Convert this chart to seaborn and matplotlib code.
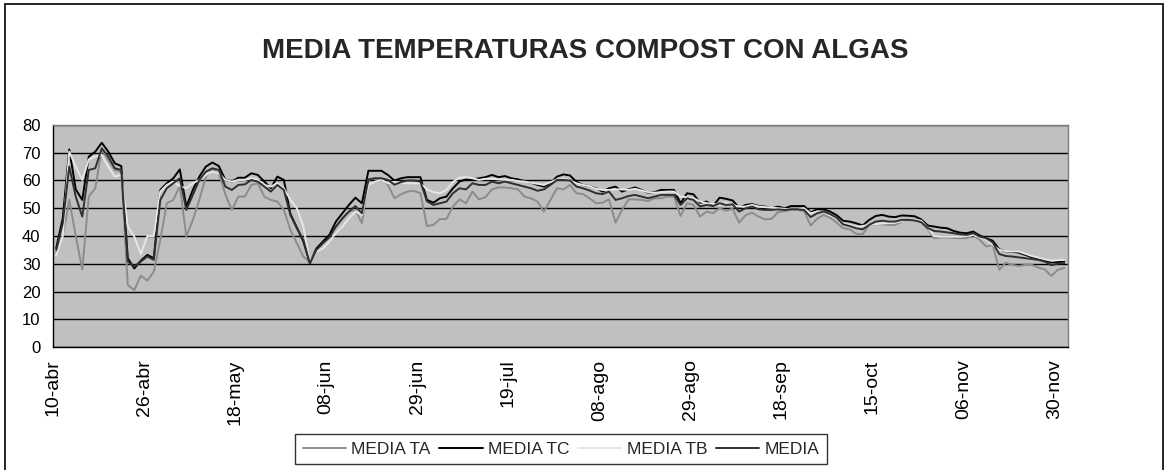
import numpy as np
import pandas as pd
import seaborn as sns
import matplotlib.pyplot as plt
from matplotlib.patches import Rectangle

# Etiquetas del eje X (una cada 14 muestras)
fechas = ["10-abr", "26-abr", "18-may", "08-jun", "29-jun", "19-jul",
          "08-ago", "29-ago", "18-sep", "15-oct", "06-nov", "30-nov"]
paso_etiqueta = 14

media_ta = [34.0, 40.0, 53.0, 40.0, 28.0, 54.2, 57.2, 71.2, 67.4, 63.8,
            63.2, 22.3, 20.5, 25.7, 23.9, 27.1, 38.6, 51.8, 53.0, 58.0,
            39.8, 45.8, 53.0, 61.4, 63.8, 62.6, 55.0, 49.4, 54.2, 54.2,
            58.4, 59.0, 54.2, 53.0, 52.4, 49.4, 42.2, 37.4, 32.6, 30.5,
            35.0, 38.0, 39.8, 43.4, 46.0, 48.8, 49.4, 44.6, 60.2, 60.8,
            60.8, 58.4, 53.6, 55.0, 56.0, 56.3, 55.4, 43.6, 44.0, 46.1,
            46.1, 50.6, 53.2, 51.8, 56.0, 53.2, 54.0, 56.8, 57.5, 57.5,
            57.2, 56.8, 54.2, 53.6, 52.4, 48.8, 53.0, 57.2, 56.8, 58.4,
            55.4, 55.1, 53.6, 51.8, 52.0, 53.2, 44.8, 49.4, 53.2, 53.2,
            53.0, 52.6, 53.6, 53.6, 54.2, 54.2, 47.2, 51.8, 51.2, 47.0,
            48.8, 48.2, 50.0, 49.1, 49.8, 44.8, 47.5, 48.4, 47.0, 46.0,
            46.2, 48.6, 49.0, 49.4, 49.4, 49.0, 43.8, 46.2, 47.6, 46.6,
            44.8, 42.8, 42.4, 40.8, 40.6, 44.0, 44.2, 44.2, 44.0, 44.0,
            45.2, 45.8, 45.8, 45.0, 42.4, 39.2, 39.4, 39.5, 39.3, 39.2,
            39.2, 40.4, 38.6, 36.2, 36.8, 27.8, 30.4, 29.6, 29.2, 29.6,
            29.6, 28.6, 28.0, 25.6, 27.8, 28.5]

media_tc = [35.7, 46.4, 71.2, 56.8, 53.0, 68.6, 70.4, 73.6, 70.4, 66.2,
            65.2, 32.0, 28.3, 31.1, 33.2, 32.0, 56.6, 59.0, 60.8, 64.0,
            50.6, 56.6, 61.4, 65.0, 66.5, 65.2, 60.2, 59.6, 61.0, 61.0,
            62.6, 62.0, 59.6, 57.2, 61.4, 60.2, 48.0, 43.0, 38.0, 30.2,
            35.5, 38.0, 40.4, 45.2, 48.2, 51.2, 53.8, 51.8, 63.5, 63.5,
            63.5, 62.0, 60.0, 60.8, 61.2, 61.2, 61.2, 53.0, 52.0, 53.6,
            54.2, 57.2, 59.6, 60.4, 60.4, 60.8, 61.2, 62.0, 61.2, 61.6,
            60.8, 60.4, 59.8, 59.2, 58.4, 57.8, 59.0, 61.4, 62.2, 61.8,
            59.5, 58.4, 58.0, 57.2, 56.0, 57.2, 57.8, 56.0, 56.8, 57.5,
            56.6, 55.6, 55.8, 56.6, 56.6, 56.6, 51.8, 55.4, 55.0, 52.0,
            52.4, 50.8, 53.8, 53.4, 52.8, 50.2, 51.2, 51.5, 50.8, 50.6,
            50.0, 50.6, 50.0, 50.8, 50.8, 50.8, 48.5, 49.6, 49.6, 48.8,
            47.5, 45.5, 45.2, 44.6, 43.8, 45.8, 47.2, 47.6, 47.0, 46.8,
            47.4, 47.3, 47.1, 46.0, 43.8, 43.4, 43.0, 42.8, 41.8, 41.2,
            41.0, 41.6, 40.2, 39.2, 38.3, 35.2, 34.5, 34.4, 34.0, 33.2,
            32.4, 31.7, 31.2, 30.5, 30.6, 30.8]

media_tb = [33.0, 40.0, 70.4, 65.0, 60.2, 67.6, 68.6, 69.2, 65.0, 61.4,
            62.0, 43.4, 39.8, 33.5, 40.0, 40.0, 56.0, 58.4, 59.6, 58.0,
            57.2, 59.0, 60.2, 62.0, 63.2, 62.6, 60.2, 59.6, 60.2, 60.2,
            60.8, 60.2, 58.4, 57.8, 59.0, 57.2, 53.0, 50.0, 43.4, 30.8,
            34.4, 35.5, 38.0, 41.0, 43.4, 46.4, 48.8, 47.6, 58.4, 59.6,
            60.2, 59.0, 59.5, 59.2, 59.0, 59.0, 59.0, 56.8, 55.8, 55.4,
            56.6, 59.5, 61.0, 61.2, 60.8, 60.2, 60.6, 60.6, 60.4, 60.2,
            60.2, 59.8, 59.6, 59.2, 58.8, 58.4, 59.4, 60.4, 60.6, 60.0,
            59.0, 58.4, 58.0, 57.0, 56.6, 56.6, 56.8, 56.8, 56.6, 57.0,
            56.4, 55.8, 55.6, 55.8, 56.0, 56.0, 54.2, 54.0, 53.6, 52.5,
            51.8, 51.6, 51.2, 52.0, 51.2, 50.6, 50.6, 51.2, 50.6, 50.4,
            50.2, 50.0, 49.8, 49.6, 49.6, 50.0, 48.2, 48.8, 48.6, 47.4,
            46.5, 44.4, 44.0, 43.2, 43.6, 44.0, 44.3, 44.5, 44.7, 44.8,
            45.4, 45.8, 45.8, 45.5, 43.0, 40.0, 39.8, 39.8, 39.8, 39.8,
            40.0, 40.4, 39.6, 38.8, 36.8, 35.0, 34.6, 34.5, 34.4, 33.6,
            32.8, 32.2, 31.6, 31.1, 31.3, 31.4]

media = [35.0, 44.6, 65.0, 54.2, 47.0, 63.8, 64.4, 71.6, 68.6, 64.4,
         63.8, 30.8, 29.0, 30.8, 32.6, 31.4, 53.0, 57.2, 59.0, 60.8,
         49.4, 54.8, 60.2, 63.2, 64.4, 63.8, 57.8, 56.6, 58.4, 58.6,
         60.2, 59.6, 57.8, 56.0, 58.4, 56.6, 47.6, 42.8, 38.6, 30.2,
         35.0, 37.4, 39.5, 43.4, 46.4, 48.8, 50.8, 48.2, 60.4, 60.8,
         60.8, 60.2, 58.5, 59.4, 60.0, 60.0, 59.6, 52.5, 51.2, 51.8,
         52.4, 55.4, 57.2, 56.8, 59.0, 58.4, 58.4, 59.6, 59.0, 59.6,
         59.0, 58.4, 57.8, 57.2, 56.3, 56.8, 58.4, 60.2, 60.2, 60.0,
         57.8, 57.2, 56.4, 55.4, 55.1, 56.0, 53.0, 53.6, 54.4, 54.8,
         54.2, 53.6, 54.2, 54.8, 54.8, 54.8, 51.2, 53.6, 53.0, 50.6,
         51.2, 50.8, 51.8, 51.2, 51.4, 48.8, 50.0, 50.6, 49.6, 49.4,
         49.4, 49.6, 49.4, 49.6, 49.6, 49.4, 46.8, 48.2, 48.8, 47.9,
         46.6, 44.2, 43.6, 42.8, 42.4, 44.0, 45.2, 45.5, 45.2, 45.2,
         45.8, 45.8, 45.6, 45.0, 42.9, 41.8, 41.6, 41.3, 41.0, 40.6,
         40.4, 41.0, 39.8, 39.2, 37.7, 33.5, 32.8, 32.6, 32.3, 32.0,
         31.7, 31.4, 30.8, 29.5, 30.0, 30.2]

series = ["MEDIA TA", "MEDIA TC", "MEDIA TB", "MEDIA"]
colores = ["#8c8c8c", "#000000", "#e6e6e6", "#303030"]

n = len(media_tc)
df = pd.DataFrame({"muestra": np.arange(n),
                   "MEDIA TA": media_ta,
                   "MEDIA TC": media_tc,
                   "MEDIA TB": media_tb,
                   "MEDIA": media})
largo = df.melt(id_vars="muestra", var_name="serie", value_name="temp")

sns.set_theme(style="white")
plt.rcParams["font.family"] = ["Liberation Sans", "DejaVu Sans"]

W, H = 1169, 470
fig = plt.figure(figsize=(W / 100, H / 100), dpi=100)
ax = fig.add_axes([53 / W, 1 - 347 / H, (1067.5 - 53) / W, (347 - 125) / H])
ax.set_facecolor("#c0c0c0")

sns.lineplot(data=largo, x="muestra", y="temp", hue="serie",
             hue_order=series, palette=colores, linewidth=1.4, ax=ax)

# Ejes
ax.set_xlim(-0.5, n - 0.5)
ax.set_ylim(0, 80)
ax.set_yticks(range(0, 81, 10))
ax.set_xticks(np.arange(len(fechas)) * paso_etiqueta - 0.5)
ax.set_xticklabels(fechas, rotation=90, fontsize=14)
ax.tick_params(axis="y", labelsize=12)
ax.tick_params(axis="both", direction="out", length=5, width=1,
               color="black", labelcolor="black", pad=4)
ax.yaxis.grid(True, color="black", linewidth=1)
ax.set_axisbelow(True)
ax.set_xlabel("")
ax.set_ylabel("")
for lado in ["left", "bottom"]:
    ax.spines[lado].set_color("black")
    ax.spines[lado].set_linewidth(1)
for lado in ["top", "right"]:
    ax.spines[lado].set_color("#808080")
    ax.spines[lado].set_linewidth(1)

# Leyenda abajo
handles, labels = ax.get_legend_handles_labels()
ax.get_legend().remove()
leg = fig.legend(handles, labels, loc="center",
                 bbox_to_anchor=(561 / W, 1 - 449 / H), ncol=4,
                 fontsize=12.5, frameon=True, fancybox=False,
                 edgecolor="black", handlelength=2.5, handletextpad=0.3,
                 columnspacing=0.5, borderpad=0.45)
leg.get_frame().set_linewidth(1)

# Titulo
fig.text(585 / W, 1 - 51 / H, "MEDIA TEMPERATURAS COMPOST CON ALGAS",
         ha="center", va="center", fontsize=20, fontweight="bold")

# Borde del area del grafico
fig.patches.append(Rectangle((5 / W, -2 / H), (1163 - 5) / W, (466 + 2) / H,
                             transform=fig.transFigure, fill=False,
                             edgecolor="black", linewidth=1.2))

fig.savefig("out.png", dpi=100)
